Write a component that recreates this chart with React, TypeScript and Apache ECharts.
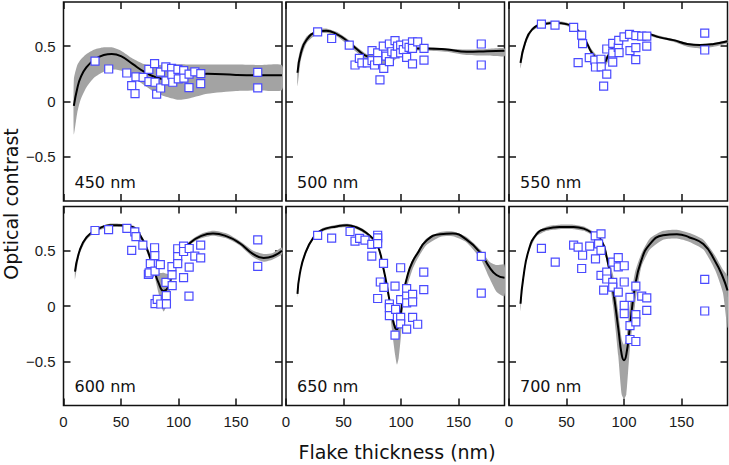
import React, { useEffect, useRef } from "react";
import * as echarts from "echarts";

// ---------- labels & ticks ----------
const PANEL_LABELS = ["450 nm", "500 nm", "550 nm", "600 nm", "650 nm", "700 nm"];
const X_TICKS = [0, 50, 100, 150];
const Y_TICKS = [-0.5, 0, 0.5];
const X_TITLE = "Flake thickness (nm)";
const Y_TITLE = "Optical contrast";

// ---------- 450 nm ----------
const fitX450 = [9, 12, 15, 20, 27, 35, 42, 50, 60, 70, 80, 90, 100, 110, 125, 150, 170, 190];
const fit450 = [-0.04, 0.12, 0.22, 0.31, 0.38, 0.42, 0.43, 0.41, 0.34, 0.27, 0.22, 0.2, 0.21, 0.235, 0.25, 0.24, 0.237, 0.237];
const hi450 = [0.2, 0.33, 0.38, 0.43, 0.47, 0.49, 0.49, 0.46, 0.39, 0.34, 0.33, 0.335, 0.337, 0.335, 0.334, 0.334, 0.33, 0.328];
const lo450 = [-0.3, -0.1, 0.02, 0.13, 0.22, 0.27, 0.29, 0.28, 0.22, 0.15, 0.08, 0.04, 0.015, 0.03, 0.07, 0.095, 0.1, 0.105];
const x450 = [27.4, 39.3, 55, 59.3, 62.2, 63, 69.2, 74.2, 74.3, 79.2, 79.6, 81, 84.4, 84.5, 89, 89.1, 94, 94.2, 95, 99.5, 99.8, 104.5, 104.7, 109.2, 109.1, 114.2, 119.4, 119.3, 168.9, 168.9];
const y450 = [0.366, 0.294, 0.258, 0.144, 0.072, 0.222, 0.218, 0.29, 0.18, 0.343, 0.174, 0.066, 0.266, 0.122, 0.313, 0.186, 0.3, 0.24, 0.174, 0.29, 0.205, 0.28, 0.212, 0.248, 0.125, 0.268, 0.252, 0.162, 0.264, 0.123];

// ---------- 500 nm ----------
const fitX500 = [10, 13, 18, 27, 35, 44, 53, 62, 70, 79, 88, 100, 110, 122, 140, 157, 175, 190];
const fit500 = [0.26, 0.44, 0.56, 0.63, 0.64, 0.61, 0.55, 0.47, 0.41, 0.39, 0.41, 0.46, 0.48, 0.48, 0.47, 0.45, 0.455, 0.46];
const hi500 = [0.34, 0.49, 0.59, 0.65, 0.66, 0.63, 0.57, 0.49, 0.43, 0.42, 0.44, 0.48, 0.49, 0.49, 0.48, 0.47, 0.475, 0.48];
const lo500 = [0.14, 0.38, 0.53, 0.61, 0.62, 0.59, 0.52, 0.44, 0.36, 0.3, 0.32, 0.42, 0.46, 0.46, 0.45, 0.42, 0.415, 0.41];
const x500 = [27.5, 39.7, 55, 60, 63.8, 66, 70.7, 74.8, 74.8, 77, 79.7, 79.7, 81.7, 84.6, 85, 87, 89.9, 89.9, 92, 94.8, 94.8, 97, 99.7, 99.7, 102, 104.9, 104.9, 107, 110, 110, 110, 114.5, 120, 120, 169.8, 169.8];
const y500 = [0.63, 0.57, 0.51, 0.33, 0.39, 0.35, 0.35, 0.46, 0.37, 0.33, 0.44, 0.37, 0.195, 0.5, 0.3, 0.41, 0.52, 0.36, 0.45, 0.55, 0.43, 0.5, 0.51, 0.44, 0.47, 0.52, 0.4, 0.49, 0.54, 0.34, 0.48, 0.54, 0.48, 0.375, 0.52, 0.33];

// ---------- 550 nm ----------
const fitX550 = [10, 14, 20, 30, 41, 50, 59, 66, 72, 78, 82, 86, 92, 99, 108, 120, 131, 143, 155, 166, 178, 190];
const fit550 = [0.35, 0.53, 0.65, 0.7, 0.71, 0.7, 0.65, 0.56, 0.44, 0.37, 0.35, 0.41, 0.52, 0.59, 0.61, 0.61, 0.58, 0.555, 0.52, 0.51, 0.52, 0.545];
const hi550 = [0.37, 0.55, 0.665, 0.715, 0.725, 0.715, 0.665, 0.58, 0.47, 0.4, 0.39, 0.43, 0.535, 0.605, 0.625, 0.625, 0.595, 0.565, 0.53, 0.52, 0.53, 0.555];
const lo550 = [0.3, 0.5, 0.635, 0.69, 0.7, 0.685, 0.635, 0.545, 0.42, 0.33, 0.29, 0.36, 0.49, 0.575, 0.6, 0.595, 0.57, 0.54, 0.495, 0.48, 0.495, 0.53];
const x550 = [28.2, 40, 56.2, 60.1, 63.2, 64, 69.8, 74.6, 75.2, 80, 80.2, 82.3, 85, 85, 90.2, 90.2, 90.2, 95, 95.4, 95.7, 100, 104.8, 105.2, 110.3, 110.3, 110.2, 115.4, 119.8, 119.8, 170.2, 170.2];
const y550 = [0.7, 0.69, 0.67, 0.352, 0.6, 0.523, 0.397, 0.374, 0.312, 0.382, 0.314, 0.139, 0.475, 0.248, 0.525, 0.44, 0.357, 0.49, 0.553, 0.442, 0.585, 0.608, 0.46, 0.596, 0.487, 0.378, 0.592, 0.592, 0.5, 0.619, 0.466];

// ---------- 600 nm ----------
const fitX600 = [10, 14, 20, 29, 40, 49, 61, 66, 72, 78, 83, 87, 91, 95, 101, 110, 119, 130, 142, 153, 165, 174, 182, 190];
const fit600 = [0.31, 0.5, 0.62, 0.69, 0.73, 0.73, 0.71, 0.65, 0.53, 0.35, 0.2, 0.135, 0.17, 0.32, 0.47, 0.57, 0.63, 0.655, 0.63, 0.57, 0.47, 0.435, 0.45, 0.5];
const hi600 = [0.34, 0.52, 0.635, 0.705, 0.745, 0.745, 0.725, 0.67, 0.56, 0.4, 0.3, 0.3, 0.29, 0.37, 0.49, 0.59, 0.65, 0.68, 0.655, 0.59, 0.5, 0.47, 0.48, 0.53];
const lo600 = [0.24, 0.47, 0.6, 0.675, 0.715, 0.715, 0.695, 0.63, 0.5, 0.32, 0.1, -0.05, 0.05, 0.27, 0.45, 0.555, 0.61, 0.635, 0.61, 0.55, 0.44, 0.4, 0.42, 0.47];
const x600 = [27.4, 39.2, 55.1, 59.3, 62, 63, 69, 73.8, 74.5, 75.5, 79.2, 79.4, 79.6, 79.6, 81.5, 84.2, 84.6, 89.1, 89.4, 89.5, 94.3, 94.4, 94.5, 99.3, 99.3, 99.3, 104.4, 104.4, 104.4, 109.3, 109.3, 109.1, 114.2, 119.3, 119.3, 168.9, 168.9];
const y600 = [0.683, 0.69, 0.702, 0.504, 0.67, 0.627, 0.551, 0.286, 0.3, 0.383, 0.527, 0.455, 0.316, 0.022, 0.06, 0.375, 0.018, 0.214, 0.093, 0.018, 0.357, 0.281, 0.184, 0.518, 0.446, 0.384, 0.541, 0.493, 0.256, 0.52, 0.352, 0.09, 0.451, 0.551, 0.435, 0.599, 0.358];

// ---------- 650 nm ----------
const fitX650 = [10, 12, 16.5, 24, 32, 44, 53, 61.5, 70, 79, 84.5, 89, 92.5, 95, 96.5, 98, 100, 102, 106, 110, 114, 122, 134, 145, 157, 169, 177, 183, 190];
const fit650 = [0.11, 0.29, 0.47, 0.62, 0.69, 0.72, 0.73, 0.71, 0.66, 0.56, 0.35, 0.11, -0.1, -0.2, -0.21, -0.17, -0.05, 0.11, 0.29, 0.4, 0.47, 0.59, 0.65, 0.655, 0.6, 0.48, 0.35, 0.28, 0.255];
const hi650 = [0.14, 0.31, 0.49, 0.635, 0.705, 0.735, 0.745, 0.725, 0.675, 0.57, 0.37, 0.13, -0.08, -0.17, -0.18, -0.14, -0.02, 0.14, 0.31, 0.42, 0.49, 0.61, 0.67, 0.675, 0.625, 0.51, 0.4, 0.37, 0.375];
const lo650 = [0.08, 0.27, 0.45, 0.605, 0.675, 0.705, 0.715, 0.695, 0.645, 0.545, 0.32, 0.06, -0.25, -0.45, -0.53, -0.47, -0.27, 0.0, 0.2, 0.33, 0.42, 0.55, 0.625, 0.63, 0.575, 0.43, 0.25, 0.13, 0.09];
const x650 = [27.5, 39.7, 55.7, 60, 64, 68.7, 74.6, 74.6, 79.7, 79.7, 79.7, 79.7, 82, 84.8, 85.1, 89.9, 89.9, 89.9, 94.8, 95.3, 94.8, 99.7, 99.7, 99.7, 99.7, 104.9, 104.9, 104.9, 104.9, 110.1, 110.1, 110.1, 114.5, 119.8, 119.8, 169.8, 169.8];
const y650 = [0.638, 0.614, 0.674, 0.587, 0.612, 0.596, 0.557, 0.451, 0.64, 0.617, 0.565, 0.068, 0.217, 0.385, 0.168, 0.018, -0.015, -0.087, 0.179, -0.03, -0.264, 0.346, 0.057, -0.102, -0.162, 0.157, 0.09, 0.028, -0.21, 0.106, 0.038, -0.102, -0.165, 0.307, 0.148, 0.449, 0.117];

// ---------- 700 nm ----------
const fitX700 = [10, 12.5, 17, 24, 33, 44, 56, 65, 73, 80.5, 85, 90.5, 95, 98, 100, 102, 105, 109.5, 115, 122.5, 134, 146, 157, 169, 179, 186, 190];
const fit700 = [0.02, 0.26, 0.5, 0.65, 0.7, 0.715, 0.715, 0.7, 0.655, 0.59, 0.44, 0.14, -0.2, -0.44, -0.49, -0.44, -0.2, 0.17, 0.41, 0.56, 0.64, 0.65, 0.62, 0.56, 0.41, 0.26, 0.14];
const hi700 = [0.06, 0.29, 0.52, 0.67, 0.72, 0.735, 0.735, 0.72, 0.675, 0.61, 0.47, 0.28, -0.05, -0.3, -0.35, -0.3, 0.0, 0.3, 0.47, 0.61, 0.68, 0.69, 0.66, 0.6, 0.46, 0.33, 0.27];
const lo700 = [-0.05, 0.22, 0.48, 0.63, 0.68, 0.695, 0.695, 0.68, 0.635, 0.56, 0.4, 0.0, -0.45, -0.8, -0.84, -0.8, -0.4, 0.0, 0.35, 0.51, 0.6, 0.61, 0.58, 0.51, 0.33, 0.12, -0.2];
const x700 = [28.2, 40.2, 56.2, 60.1, 63.2, 64, 70.2, 75, 75.2, 77.9, 80, 80, 80, 82.3, 85, 85, 90.2, 90.2, 90.2, 95, 95, 95, 100.2, 100.2, 100.2, 100.2, 105.2, 105.2, 105.2, 110.3, 110.3, 110.3, 110.3, 115.4, 119.8, 119.8, 170.2, 170.2];
const y700 = [0.522, 0.397, 0.55, 0.533, 0.339, 0.459, 0.542, 0.635, 0.426, 0.562, 0.652, 0.504, 0.277, 0.144, 0.307, 0.244, 0.397, 0.214, 0.171, 0.437, 0.354, 0.126, 0.364, 0.217, 0.006, -0.069, 0.078, -0.177, -0.303, 0.179, -0.078, -0.144, -0.321, 0.089, 0.074, -0.039, 0.241, -0.045];

const PANELS = [
  { fx: fitX450, fit: fit450, hi: hi450, lo: lo450, px: x450, py: y450 },
  { fx: fitX500, fit: fit500, hi: hi500, lo: lo500, px: x500, py: y500 },
  { fx: fitX550, fit: fit550, hi: hi550, lo: lo550, px: x550, py: y550 },
  { fx: fitX600, fit: fit600, hi: hi600, lo: lo600, px: x600, py: y600 },
  { fx: fitX650, fit: fit650, hi: hi650, lo: lo650, px: x650, py: y650 },
  { fx: fitX700, fit: fit700, hi: hi700, lo: lo700, px: x700, py: y700 },
];

const COL_LEFT = [63.5, 286, 509];
const ROW_TOP = [2, 206.5];
const PANEL_W = 218.5;
const PANEL_H = 199;

const TICK_FONT = "'Liberation Sans', Arial, sans-serif";
const TEXT_FONT = "'DejaVu Sans', Verdana, sans-serif";

export default function App() {
  const ref = useRef<HTMLDivElement>(null);

  useEffect(() => {
    if (!ref.current) return;
    const chart = echarts.init(ref.current, undefined, { renderer: "svg" });

    const grids: any[] = [];
    const xAxes: any[] = [];
    const yAxes: any[] = [];
    const series: any[] = [];
    const graphics: any[] = [];

    const tickStyle = { color: "#111", width: 1.5 };

    PANELS.forEach((p, i) => {
      const row = Math.floor(i / 3);
      const col = i % 3;
      const left = COL_LEFT[col];
      const top = ROW_TOP[row];
      grids.push({
        left,
        top,
        width: PANEL_W,
        height: PANEL_H,
        show: true,
        borderColor: "#111",
        borderWidth: 1.5,
        backgroundColor: "transparent",
        containLabel: false,
      });
      ["bottom", "top"].forEach((pos) => {
        xAxes.push({
          type: "value",
          gridIndex: i,
          position: pos,
          min: 0,
          max: 190,
          axisLine: { show: false, onZero: false },
          splitLine: { show: false },
          axisTick: { show: true, inside: true, length: 7, customValues: X_TICKS, lineStyle: tickStyle },
          axisLabel: {
            show: pos === "bottom" && row === 1,
            customValues: X_TICKS,
            margin: 8,
            fontSize: 15,
            color: "#1a1a1a",
            fontFamily: TICK_FONT,
          },
        });
      });
      ["left", "right"].forEach((pos) => {
        yAxes.push({
          type: "value",
          gridIndex: i,
          position: pos,
          min: -0.9,
          max: 0.9,
          axisLine: { show: false, onZero: false },
          splitLine: { show: false },
          axisTick: { show: true, inside: true, length: 7, customValues: Y_TICKS, lineStyle: tickStyle },
          axisLabel: {
            show: pos === "left" && col === 0,
            customValues: Y_TICKS,
            margin: 8,
            fontSize: 15,
            color: "#1a1a1a",
            fontFamily: TICK_FONT,
            formatter: (v: number) => (v === 0 ? "0" : String(v).replace("-", "\u2212")),
          },
        });
      });

      const fx = p.fx, hi = p.hi, lo = p.lo;
      series.push({
        type: "custom",
        xAxisIndex: 2 * i,
        yAxisIndex: 2 * i,
        clip: true,
        silent: true,
        z: 1,
        data: fx.map((x, k) => [x, lo[k], hi[k]]),
        encode: { x: 0, y: [1, 2] },
        renderItem: (params: any, api: any) => {
          if (params.dataIndex !== 0) return null;
          const pts: number[][] = [];
          for (let k = 0; k < fx.length; k++) pts.push(api.coord([fx[k], hi[k]]));
          for (let k = fx.length - 1; k >= 0; k--) pts.push(api.coord([fx[k], lo[k]]));
          return {
            type: "polygon",
            shape: { points: pts, smooth: 0.2 },
            style: { fill: "#a3a3a3", stroke: "none" },
          };
        },
      });
      series.push({
        type: "line",
        xAxisIndex: 2 * i,
        yAxisIndex: 2 * i,
        data: fx.map((x, k) => [x, p.fit[k]]),
        smooth: 0.5,
        showSymbol: false,
        symbol: "none",
        silent: true,
        z: 2,
        lineStyle: { color: "#000", width: 2 },
      });
      series.push({
        type: "scatter",
        xAxisIndex: 2 * i,
        yAxisIndex: 2 * i,
        data: p.px.map((x, k) => [x, p.py[k]]),
        symbol: "rect",
        symbolSize: 8,
        z: 3,
        itemStyle: { color: "#ffffff", borderColor: "#4a4aff", borderWidth: 1.2, opacity: 1 },
      });

      graphics.push({
        type: "text",
        x: left + 11,
        y: top + PANEL_H - 19,
        style: {
          text: PANEL_LABELS[i],
          fontSize: 16,
          fontFamily: TEXT_FONT,
          fill: "#111",
          align: "left",
          verticalAlign: "middle",
        },
      });
    });

    graphics.push({
      type: "text",
      x: 397,
      y: 452,
      style: {
        text: X_TITLE,
        fontSize: 19,
        fontFamily: TEXT_FONT,
        fill: "#111",
        align: "center",
        verticalAlign: "middle",
      },
    });
    graphics.push({
      type: "text",
      x: 11,
      y: 204,
      rotation: Math.PI / 2,
      style: {
        text: Y_TITLE,
        fontSize: 19,
        fontFamily: TEXT_FONT,
        fill: "#111",
        align: "center",
        verticalAlign: "middle",
      },
    });

    chart.setOption({
      animation: false,
      backgroundColor: "#ffffff",
      grid: grids,
      xAxis: xAxes,
      yAxis: yAxes,
      series,
      graphic: graphics,
    });

    return () => chart.dispose();
  }, []);

  return (
    <div
      ref={ref}
      style={{ position: "absolute", left: 0, top: 0, width: 729, height: 465 }}
    />
  );
}
